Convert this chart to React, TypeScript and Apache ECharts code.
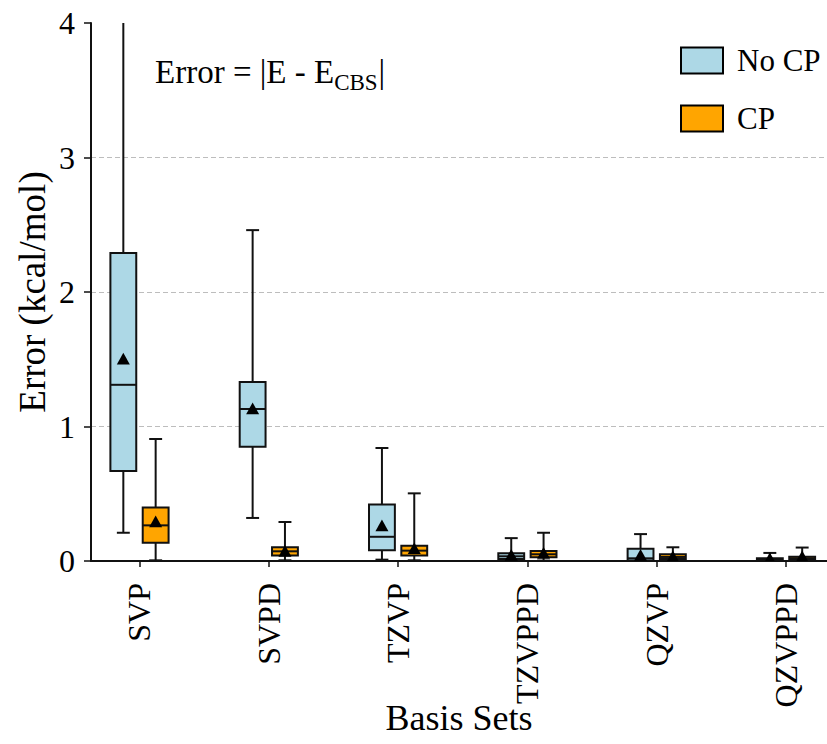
import React, { useEffect, useRef } from "react";
import * as echarts from "echarts";

const categories = ["SVP", "SVPD", "TZVP", "TZVPPD", "QZVP", "QZVPPD"];
// [lower whisker, Q1, median, Q3, upper whisker]
const noCpBoxes = [
  [0.21, 0.67, 1.31, 2.29, 4.5],
  [0.32, 0.85, 1.13, 1.33, 2.46],
  [0.01, 0.08, 0.18, 0.42, 0.84],
  [0.003, 0.015, 0.035, 0.057, 0.17],
  [0.002, 0.004, 0.02, 0.092, 0.2],
  [0.002, 0.005, 0.012, 0.02, 0.06],
];
const noCpMeans = [1.5, 1.13, 0.26, 0.04, 0.04, 0.015];
const cpBoxes = [
  [0.005, 0.136, 0.265, 0.397, 0.907],
  [0.005, 0.04, 0.072, 0.102, 0.29],
  [0.005, 0.04, 0.077, 0.114, 0.503],
  [0.003, 0.027, 0.05, 0.074, 0.21],
  [0.002, 0.015, 0.03, 0.05, 0.102],
  [0.002, 0.008, 0.02, 0.032, 0.1],
];
const cpMeans = [0.29, 0.07, 0.09, 0.055, 0.03, 0.03];
const yTicks = [0, 1, 2, 3, 4];

const FONT = "'Liberation Serif', 'Times New Roman', serif";
const BOX_W = 0.2;
const OFFSET = 0.125;
const STROKE = "#111";

function buildData(boxes: number[][], means: number[], offset: number) {
  return boxes.map((b, i) => [i + 1 + offset, ...b, means[i]]);
}

function measure(text: string, size: number) {
  const c = document.createElement("canvas").getContext("2d");
  if (!c) return text.length * size * 0.5;
  c.font = `${size}px 'Liberation Serif'`;
  return c.measureText(text).width;
}

function renderBox(color: string) {
  return (params: any, api: any) => {
    const x = api.value(0);
    const lo = api.value(1);
    const q1 = api.value(2);
    const md = api.value(3);
    const q3 = api.value(4);
    const hi = api.value(5);
    const mean = api.value(6);
    const half = api.size([BOX_W, 0])[0] / 2;
    const capHalf = half / 2;
    const cx = api.coord([x, 0])[0];
    const py = (v: number) => api.coord([x, v])[1];
    const yLo = py(lo), yQ1 = py(q1), yMd = py(md), yQ3 = py(q3), yHi = py(hi), yMean = py(mean);
    const ls = { stroke: STROKE, lineWidth: 2 };
    const tri = 6.5;
    return {
      type: "group",
      children: [
        { type: "line", shape: { x1: cx, y1: yLo, x2: cx, y2: yQ1 }, style: ls },
        { type: "line", shape: { x1: cx, y1: yQ3, x2: cx, y2: yHi }, style: ls },
        { type: "line", shape: { x1: cx - capHalf, y1: yLo, x2: cx + capHalf, y2: yLo }, style: ls },
        { type: "line", shape: { x1: cx - capHalf, y1: yHi, x2: cx + capHalf, y2: yHi }, style: ls },
        {
          type: "rect",
          shape: { x: cx - half, y: yQ3, width: half * 2, height: yQ1 - yQ3 },
          style: { fill: color, stroke: STROKE, lineWidth: 2 },
        },
        { type: "line", shape: { x1: cx - half, y1: yMd, x2: cx + half, y2: yMd }, style: ls },
        {
          type: "polygon",
          shape: {
            points: [
              [cx, yMean - tri],
              [cx - tri, yMean + tri * 0.8],
              [cx + tri, yMean + tri * 0.8],
            ],
          },
          style: { fill: "#000" },
        },
      ],
    };
  };
}

export default function App() {
  const ref = useRef<HTMLDivElement>(null);
  useEffect(() => {
    if (!ref.current) return;
    const chart = echarts.init(ref.current, null, { renderer: "svg" });
    const mainText = "Error = |E - E";
    const mainSize = 33;
    const subSize = 23;
    const annX = 155;
    const w1 = measure(mainText, mainSize);
    const w2 = measure("CBS", subSize);
    chart.setOption({
      animation: false,
      backgroundColor: "#fff",
      grid: { left: 91, right: 0, top: 23, bottom: 183, outerBoundsMode: "none", containLabel: false },
      xAxis: {
        type: "value",
        min: 0.625,
        max: 6.317,
        name: "Basis Sets",
        nameLocation: "middle",
        nameGap: 157,
        nameMoveOverlap: false,
        nameTextStyle: { fontFamily: FONT, fontSize: 36, color: "#000", verticalAlign: "middle" },
        axisLine: { show: true, lineStyle: { color: STROKE, width: 2 } },
        axisTick: {
          show: true,
          length: 6,
          lineStyle: { color: STROKE, width: 1.5 },
          customValues: categories.map((_, i) => i + 1),
        },
        axisLabel: {
          rotate: 90,
          margin: 22,
          fontFamily: FONT,
          fontSize: 32,
          color: "#000",
          customValues: categories.map((_, i) => i + 1),
          formatter: (v: number) => categories[Math.round(v) - 1] ?? "",
        },
        splitLine: { show: false },
      },
      yAxis: {
        type: "value",
        min: yTicks[0],
        max: yTicks[yTicks.length - 1],
        interval: 1,
        name: "Error (kcal/mol)",
        nameLocation: "middle",
        nameGap: 40,
        nameMoveOverlap: false,
        nameTextStyle: { fontFamily: FONT, fontSize: 37, color: "#000" },
        axisLine: { show: true, lineStyle: { color: STROKE, width: 2 } },
        axisTick: { show: true, length: 7, lineStyle: { color: STROKE, width: 1.5 } },
        axisLabel: { margin: 16, fontFamily: FONT, fontSize: 32, color: "#000" },
        splitLine: {
          show: true,
          showMinLine: false,
          showMaxLine: false,
          lineStyle: { type: [5, 3], color: "#bdbdbd", width: 1.2 },
        },
      },
      legend: {
        orient: "vertical",
        left: 680,
        top: 45,
        padding: 0,
        itemWidth: 42,
        itemHeight: 26,
        itemGap: 27,
        icon: "rect",
        itemStyle: { borderColor: "#000", borderWidth: 2 },
        textStyle: { fontFamily: FONT, fontSize: 31, color: "#000", padding: [0, 0, 0, 9] },
        data: ["No CP", "CP"],
      },
      graphic: [
        {
          type: "text",
          x: annX,
          y: 55,
          style: { text: mainText, fontFamily: FONT, fontSize: mainSize, fill: "#000", verticalAlign: "top" },
        },
        {
          type: "text",
          x: annX + w1,
          y: 71,
          style: { text: "CBS", fontFamily: FONT, fontSize: subSize, fill: "#000", verticalAlign: "top" },
        },
        {
          type: "text",
          x: annX + w1 + w2 + 1,
          y: 55,
          style: { text: "|", fontFamily: FONT, fontSize: mainSize, fill: "#000", verticalAlign: "top" },
        },
      ],
      series: [
        {
          name: "No CP",
          type: "custom",
          clip: true,
          itemStyle: { color: "#add8e6", borderColor: "#000", borderWidth: 2 },
          encode: { x: 0, y: [1, 2, 3, 4, 5] },
          data: buildData(noCpBoxes, noCpMeans, -OFFSET),
          renderItem: renderBox("#add8e6"),
        },
        {
          name: "CP",
          type: "custom",
          clip: true,
          itemStyle: { color: "#ffa500", borderColor: "#000", borderWidth: 2 },
          encode: { x: 0, y: [1, 2, 3, 4, 5] },
          data: buildData(cpBoxes, cpMeans, OFFSET),
          renderItem: renderBox("#ffa500"),
        },
      ],
    });
    return () => chart.dispose();
  }, []);
  return (
    <div
      ref={ref}
      style={{ position: "fixed", left: 0, top: 0, width: 827, height: 744, background: "#fff" }}
    />
  );
}
